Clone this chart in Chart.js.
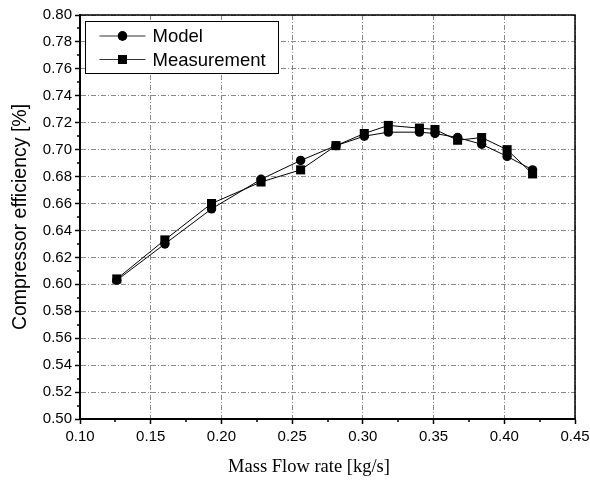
<!DOCTYPE html>
<html><head><meta charset="utf-8">
<script src="https://cdn.jsdelivr.net/npm/chart.js@4.4.0/dist/chart.umd.min.js"></script>
<style>html,body{margin:0;padding:0;background:#fff}#wrap{width:590px;height:481px}</style>
</head><body><div id="wrap"><canvas id="c" width="590" height="481"></canvas></div>
<script>
const massFlow    = [0.126, 0.160, 0.193, 0.228, 0.256, 0.281, 0.301, 0.318, 0.340, 0.351, 0.367, 0.384, 0.402, 0.420];
const modelEff    = [0.603, 0.630, 0.656, 0.678, 0.692, 0.703, 0.710, 0.713, 0.713, 0.712, 0.709, 0.704, 0.695, 0.685];
const measuredEff = [0.604, 0.633, 0.660, 0.676, 0.685, 0.703, 0.712, 0.718, 0.716, 0.715, 0.707, 0.709, 0.700, 0.682];
const seriesNames = ['Model', 'Measurement'];
const xTitle = 'Mass Flow rate [kg/s]';
const yTitle = 'Compressor efficiency [%]';
const xRange = [0.10, 0.45];
const yRange = [0.50, 0.80];
const xStep = 0.05;
const yStep = 0.02;

const toPts = ys => massFlow.map((x, i) => ({x: x, y: ys[i]}));

const extras = {
  id: 'extras',
  afterDraw(chart) {
    const ctx = chart.ctx, a = chart.chartArea;
    const xs = chart.scales.x, ys = chart.scales.y;
    ctx.save();
    ctx.setLineDash([]);
    ctx.strokeStyle = '#000';
    // minor ticks
    ctx.lineWidth = 1.5;
    for (let v = xRange[0] + xStep / 2; v < xRange[1]; v += xStep) {
      const p = Math.round(xs.getPixelForValue(v));
      ctx.beginPath(); ctx.moveTo(p, a.bottom); ctx.lineTo(p, a.bottom + 3); ctx.stroke();
    }
    for (let v = yRange[0] + yStep / 2; v < yRange[1]; v += yStep) {
      const p = Math.round(ys.getPixelForValue(v));
      ctx.beginPath(); ctx.moveTo(a.left - 3, p); ctx.lineTo(a.left, p); ctx.stroke();
    }
    // frame
    ctx.lineWidth = 1.5;
    ctx.strokeRect(a.left, a.top, a.right - a.left, a.bottom - a.top);
    ctx.lineWidth = 2;
    ctx.beginPath(); ctx.moveTo(a.left, a.top); ctx.lineTo(a.left, a.bottom); ctx.lineTo(a.right, a.bottom); ctx.stroke();
    // x axis title
    ctx.fillStyle = '#000';
    ctx.font = '18.5px "Liberation Serif", "Times New Roman", serif';
    ctx.textAlign = 'center';
    ctx.textBaseline = 'middle';
    ctx.fillText(xTitle, 309, 467);
    // legend
    const bx = a.left + 5.5, by = a.top + 6.5, bw = 193, bh = 52;
    ctx.fillStyle = '#fff';
    ctx.fillRect(bx, by, bw, bh);
    ctx.lineWidth = 1;
    ctx.strokeStyle = '#000';
    ctx.strokeRect(bx, by, bw, bh);
    const rows = [by + 14.5, by + 38];
    chart.data.datasets.forEach((ds, i) => {
      const y = rows[i];
      ctx.strokeStyle = '#333';
      ctx.lineWidth = 1;
      ctx.beginPath(); ctx.moveTo(bx + 14, y); ctx.lineTo(bx + 60, y); ctx.stroke();
      ctx.fillStyle = '#000';
      Chart.helpers.drawPoint(ctx, {pointStyle: ds.pointStyle, radius: ds.pointRadius, borderWidth: 0, rotation: 0}, bx + 37, y);
      ctx.fill();
      ctx.font = '18.5px "Liberation Sans", Arial, sans-serif';
      ctx.textBaseline = 'middle';
      ctx.textAlign = 'left';
      ctx.fillText(ds.label, bx + 67, y + 1);
    });
    ctx.restore();
  }
};

new Chart(document.getElementById('c'), {
  type: 'line',
  data: {
    datasets: [
      {label: seriesNames[0], data: toPts(modelEff), borderColor: '#000', borderWidth: 1,
       pointStyle: 'circle', pointRadius: 4.7, pointBackgroundColor: '#000', pointBorderColor: '#000', pointBorderWidth: 0},
      {label: seriesNames[1], data: toPts(measuredEff), borderColor: '#000', borderWidth: 1,
       pointStyle: 'rect', pointRadius: 6.4, pointBackgroundColor: '#000', pointBorderColor: '#000', pointBorderWidth: 0}
    ]
  },
  options: {
    responsive: false,
    animation: false,
    devicePixelRatio: 1,
    layout: {padding: {top: 15, right: 15, left: 0, bottom: 0}},
    plugins: {legend: {display: false}, tooltip: {enabled: false}},
    font: {family: '"Liberation Sans", Arial, sans-serif'},
    scales: {
      x: {
        type: 'linear', min: xRange[0], max: xRange[1],
        ticks: {stepSize: xStep, color: '#000', font: {size: 15, family: '"Liberation Sans", Arial, sans-serif'}, padding: 4,
                maxRotation: 0, autoSkip: false, callback: v => v.toFixed(2)},
        grid: {color: '#8a8a8a', lineWidth: 1, tickColor: '#000', tickLength: 5, tickWidth: 1.5},
        border: {display: true, color: '#000', width: 2, dash: [5, 2, 1, 2]},
        title: {display: false, text: xTitle},
        afterFit: s => { s.height = 62; s.paddingLeft = 0; s.paddingRight = 0; }
      },
      y: {
        type: 'linear', min: yRange[0], max: yRange[1],
        ticks: {stepSize: yStep, color: '#000', font: {size: 15, family: '"Liberation Sans", Arial, sans-serif'}, padding: 3,
                autoSkip: false, callback: v => v.toFixed(2)},
        grid: {color: '#8a8a8a', lineWidth: 1, tickColor: '#000', tickLength: 5, tickWidth: 1.5},
        border: {display: true, color: '#000', width: 2, dash: [5, 2, 1, 2]},
        title: {display: true, text: yTitle, color: '#000', font: {size: 19.5, family: '"Liberation Sans", Arial, sans-serif'}, padding: {top: 9, bottom: 0}},
        afterFit: s => { s.width = 80; s.paddingTop = 0; s.paddingBottom = 0; }
      }
    }
  },
  plugins: [extras]
});
</script>
</body></html>
